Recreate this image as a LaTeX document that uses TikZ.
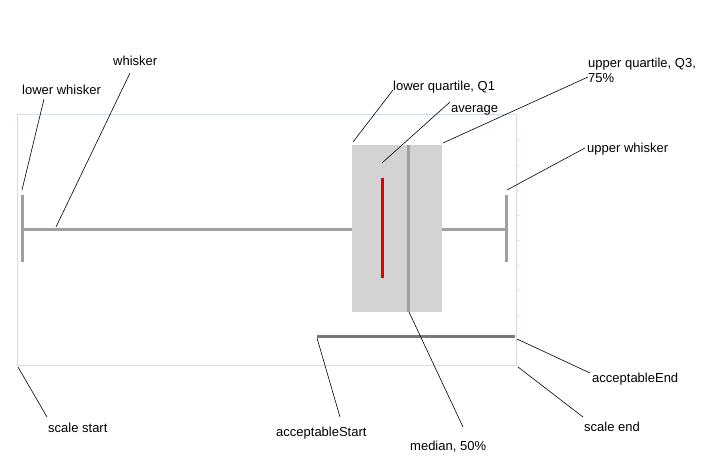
\documentclass[tikz,border=0pt]{standalone}
\usepackage{fontspec}
\setmainfont{Liberation Sans}
\definecolor{framec}{HTML}{D4DCEC}
\definecolor{barc}{HTML}{A0A0A0}
\definecolor{accc}{HTML}{787878}
\definecolor{boxc}{HTML}{D3D3D3}
\definecolor{avgc}{HTML}{DD0000}
\begin{document}
\begin{tikzpicture}[x=1pt,y=-1pt,
  lbl/.style={font=\fontsize{13}{15}\selectfont, inner sep=0pt, anchor=west, align=left},
  leader/.style={black, line width=0.6pt},
  bar/.style={draw=barc, line width=3pt},
  framestyle/.style={draw=framec, line width=1pt}]
\useasboundingbox (0,0) rectangle (708,470);
% frame
\draw[framestyle] (17,115) rectangle (516,365);
\foreach \yy in {140,165,...,340} \draw[framec, line width=0.8pt] (516,\yy) -- (518.5,\yy);
% plot elements
\coordinate (lwtop) at (22,195);
\coordinate (lwbot) at (22,262);
\coordinate (wl) at (22,229);
\coordinate (wr) at (352,229);
\node[fill=boxc, draw=none, inner sep=0pt, minimum width=90pt, minimum height=167pt, anchor=north west] (box) at (352,145) {};
\coordinate (avgtop) at (382,178);
\coordinate (avgbot) at (382,278);
\coordinate (medtop) at (408,145);
\coordinate (medbot) at (408,312);
\coordinate (uwl) at (442,229);
\coordinate (uwr) at (506,229);
\coordinate (uwtop) at (506,195);
\coordinate (uwbot) at (506,262);
\coordinate (accs) at (317,336);
\coordinate (acce) at (515,336);
\draw[bar] (lwtop) -- (lwbot);
\draw[bar] (wl) -- (wr);
\draw[bar] (uwl) -- (uwr);
\draw[bar] (uwtop) -- (uwbot);
\draw[bar] (medtop) -- (medbot);
\draw[avgc, line width=3pt] (avgtop) -- (avgbot);
\draw[accc, line width=3pt] (accs) -- (acce);
% labels
\node[lbl] (lw) at (22,90) {lower whisker};
\node[lbl] (wh) at (113,61) {whisker};
\node[lbl] (lq) at (393,87) {lower quartile, Q1};
\node[lbl] (avg) at (451,110) {average};
\node[lbl] (uq) at (588,70.5) {upper quartile, Q3,\\75\%};
\node[lbl] (uw) at (587,149) {upper whisker};
\node[lbl] (med) at (410,447) {median, 50\%};
\node[lbl] (as) at (276,433) {acceptableStart};
\node[lbl] (ae) at (592,379) {acceptableEnd};
\node[lbl] (ss) at (48,428) {scale start};
\node[lbl] (se) at (584,427) {scale end};
% leader end points
\coordinate (lwA) at (44,99);   \coordinate (lwB) at (22,190);
\coordinate (whA) at (130,73);  \coordinate (whB) at (56,227);
\coordinate (lqA) at (393,90);  \coordinate (lqB) at (353,142);
\coordinate (avA) at (450,102); \coordinate (avB) at (382,163);
\coordinate (uqA) at (588,77);  \coordinate (uqB) at (443,143);
\coordinate (uwA) at (585,148); \coordinate (uwB) at (507,190);
\coordinate (mdA) at (463,427); \coordinate (mdB) at (409,312);
\coordinate (asA) at (340,417); \coordinate (asB) at (317,338);
\coordinate (aeA) at (590,373); \coordinate (aeB) at (517,339);
\coordinate (ssA) at (47,417);  \coordinate (ssB) at (18,367);
\coordinate (seA) at (583,417); \coordinate (seB) at (518,367);
\draw[leader] (lwA) -- (lwB);
\draw[leader] (whA) -- (whB);
\draw[leader] (lqA) -- (lqB);
\draw[leader] (avA) -- (avB);
\draw[leader] (uqA) -- (uqB);
\draw[leader] (uwA) -- (uwB);
\draw[leader] (mdA) -- (mdB);
\draw[leader] (asA) -- (asB);
\draw[leader] (aeA) -- (aeB);
\draw[leader] (ssA) -- (ssB);
\draw[leader] (seA) -- (seB);
\end{tikzpicture}
\end{document}
